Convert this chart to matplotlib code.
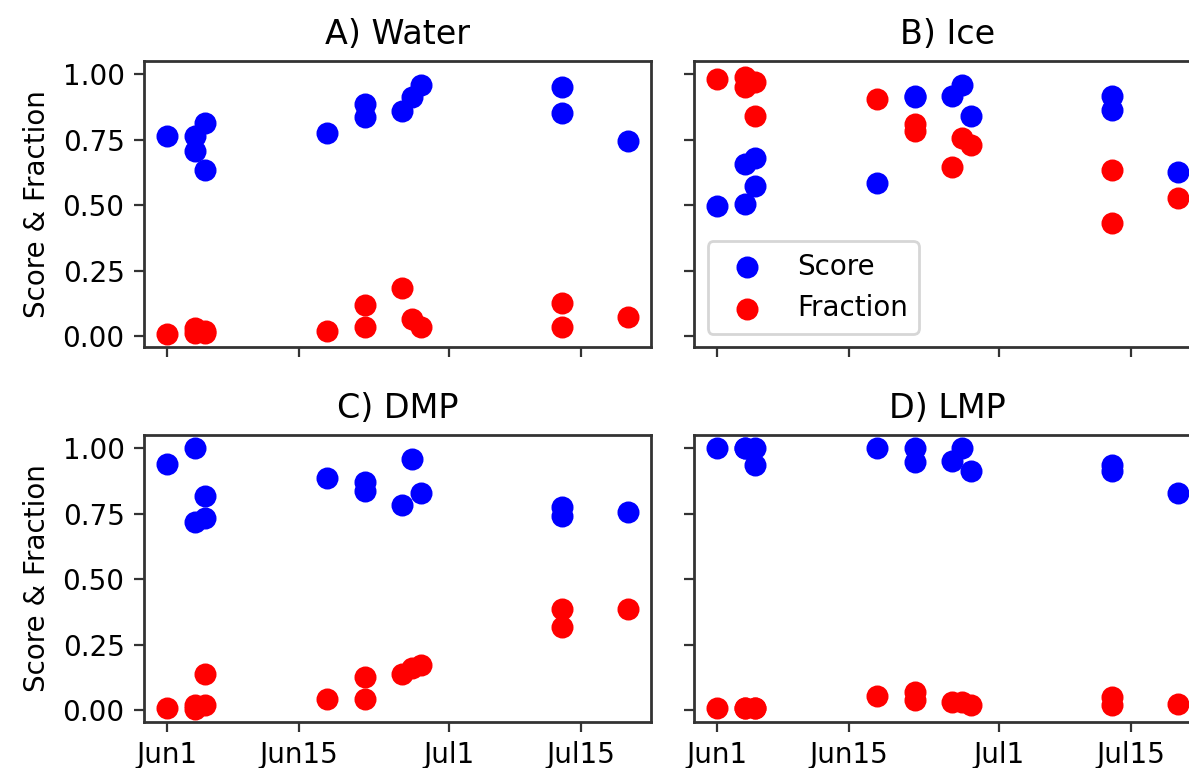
import matplotlib
matplotlib.use('Agg')
import matplotlib.pyplot as plt
import pandas as pd

# sampling dates shared by all four panels
sample_dates = ['2021-06-01', '2021-06-04', '2021-06-04', '2021-06-05', '2021-06-05',
                '2021-06-18', '2021-06-22', '2021-06-22', '2021-06-26', '2021-06-27',
                '2021-06-28', '2021-07-13', '2021-07-13', '2021-07-20']

titles = ['A) Water', 'B) Ice', 'C) DMP', 'D) LMP']

water_score = [0.765, 0.765, 0.708, 0.812, 0.634, 0.774, 0.886, 0.835, 0.860, 0.914, 0.958, 0.949, 0.850, 0.743]
water_fraction = [0.008, 0.030, 0.010, 0.020, 0.010, 0.020, 0.117, 0.033, 0.183, 0.064, 0.033, 0.127, 0.033, 0.074]

ice_score = [0.496, 0.505, 0.657, 0.680, 0.571, 0.585, 0.915, 0.912, 0.915, 0.959, 0.839, 0.915, 0.863, 0.625]
ice_fraction = [0.980, 0.990, 0.950, 0.968, 0.839, 0.905, 0.810, 0.784, 0.645, 0.756, 0.730, 0.634, 0.431, 0.527]

dmp_score = [0.939, 1.000, 0.719, 0.818, 0.732, 0.884, 0.872, 0.837, 0.784, 0.958, 0.829, 0.774, 0.742, 0.755]
dmp_fraction = [0.010, 0.019, 0.006, 0.019, 0.137, 0.042, 0.127, 0.044, 0.137, 0.162, 0.171, 0.387, 0.317, 0.386]

lmp_score = [1.000, 1.000, 1.000, 1.000, 0.936, 1.000, 1.000, 0.945, 0.949, 1.000, 0.914, 0.936, 0.914, 0.829]
lmp_fraction = [0.010, 0.010, 0.010, 0.010, 0.010, 0.053, 0.070, 0.038, 0.032, 0.032, 0.019, 0.051, 0.019, 0.022]

tick_dates = ['2021-06-01', '2021-06-15', '2021-07-01', '2021-07-15']
tick_labels = ['Jun1', 'Jun15', 'Jul1', 'Jul15']

scores = [water_score, ice_score, dmp_score, lmp_score]
fractions = [water_fraction, ice_fraction, dmp_fraction, lmp_fraction]

W, H = 1189, 768
plt.rcParams['font.size'] = 10
plt.rcParams['axes.edgecolor'] = '0.2'
plt.rcParams['axes.linewidth'] = 1.0
plt.rcParams['xtick.color'] = '0.2'
plt.rcParams['ytick.color'] = '0.2'
plt.rcParams['xtick.labelcolor'] = 'black'
plt.rcParams['ytick.labelcolor'] = 'black'

fig, axes = plt.subplots(2, 2, sharex=True, sharey=True, figsize=(W/200, H/200), dpi=200)
axes = axes.flatten()

def box(l, t, r, b):
    return [l/W, 1-b/H, (r-l)/W, (b-t)/H]

positions = [box(144, 61, 651, 347.5), box(694, 61, 1201, 347.5),
             box(144, 435, 651, 721.7), box(694, 435, 1201, 721.7)]

dates = pd.to_datetime(sample_dates)
for i, ax in enumerate(axes):
    ax.set_position(positions[i])
    ax.scatter(dates, scores[i], s=48, color='blue', label='Score')
    ax.scatter(dates, fractions[i], s=48, color='red', label='Fraction')
    ax.set_title(titles[i], fontsize=12)
    if i % 2 == 0:
        ax.set_ylabel('Score & Fraction')

axes[0].set_xticks(pd.to_datetime(tick_dates), tick_labels)
axes[1].legend(loc='lower left')

fig.savefig('out.png', dpi=200)
